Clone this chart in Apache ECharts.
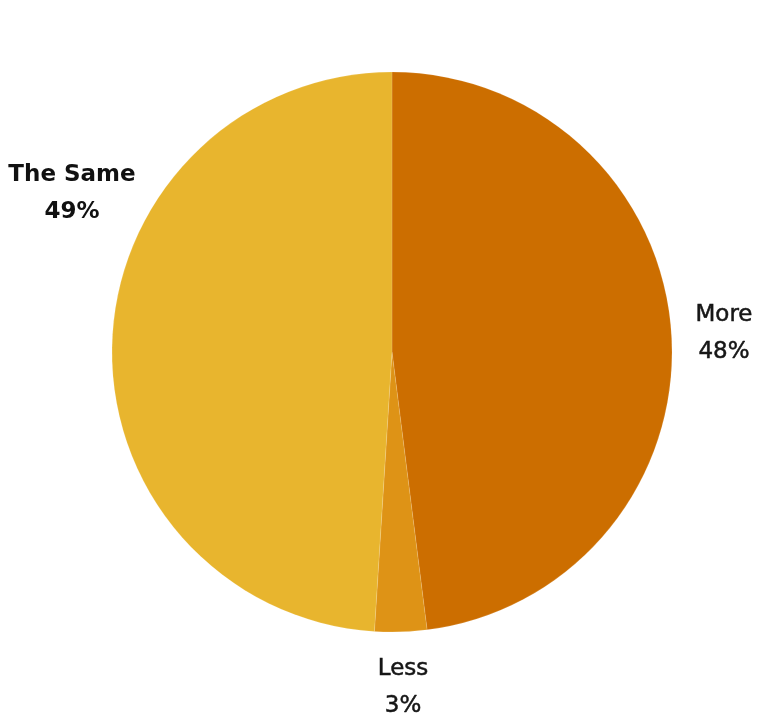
<!DOCTYPE html>
<html>
<head>
<meta charset="utf-8">
<script src="https://cdn.jsdelivr.net/npm/echarts@6/dist/echarts.min.js"></script>
<style>
  html, body { margin: 0; padding: 0; background: #ffffff; }
  #chart { width: 768px; height: 715px; }
</style>
</head>
<body>
<div id="chart"></div>
<script>
const categories = ['More', 'Less', 'The Same'];
const values = [48, 3, 49];
const colors = ['#CC6E00', '#DE9316', '#E8B52E'];
// label anchor points (block centres) in pixels
const labelSpots = [[724, 334], [403, 688], [72, 194]];

const maxVal = Math.max(...values);
const chart = echarts.init(document.getElementById('chart'), null, { renderer: 'canvas' });

chart.setOption({
  backgroundColor: '#ffffff',
  animation: false,
  series: [{
    type: 'pie',
    center: [392, 352],
    radius: 280,
    startAngle: 90,
    clockwise: true,
    data: categories.map((c, i) => ({ name: c, value: values[i], itemStyle: { color: colors[i] } })),
    itemStyle: { borderColor: 'rgba(255,255,255,0.25)', borderWidth: 0.5 },
    label: {
      show: true,
      position: 'outside',
      color: '#111111',
      fontFamily: 'DejaVu Sans',
      overflow: 'none',
      bleedMargin: 0,
      formatter: p => {
        const k = p.value === maxVal ? 'b' : 'n';
        return '{' + k + '|' + p.name + '}\n{' + k + '|' + p.value + '%}';
      },
      rich: {
        n: { fontSize: 23, fontWeight: 'normal', fontFamily: 'DejaVu Sans', color: '#161616',
             textBorderColor: '#161616', textBorderWidth: 0.5, lineHeight: 37, align: 'center' },
        b: { fontSize: 23, fontWeight: 'bold', fontFamily: 'DejaVu Sans', color: '#111111', lineHeight: 37, align: 'center' }
      }
    },
    labelLine: { show: false },
    emphasis: { disabled: true },
    labelLayout: params => ({
      x: labelSpots[params.dataIndex][0],
      y: labelSpots[params.dataIndex][1],
      align: 'center',
      verticalAlign: 'middle'
    })
  }]
});
</script>
</body>
</html>
